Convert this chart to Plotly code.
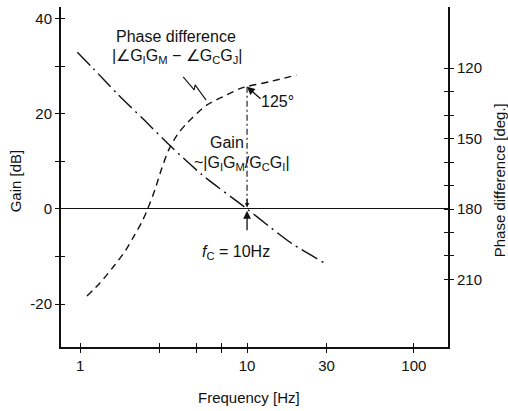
import plotly.graph_objects as go
import math

# ---- data ----
gain_freq = [0.96, 1.2, 1.67, 2.42, 3.46, 5.37, 10.0, 13.95, 18.8, 29.3]
gain_db = [33.0, 29.5, 24.2, 18.7, 13.3, 7.2, 0.0, -4.0, -7.4, -11.4]

phase_freq = [1.097, 1.317, 1.583, 1.859, 2.085, 2.341, 2.535, 2.812, 3.085, 3.38,
              3.805, 4.35, 5.73, 7.54, 9.06, 10.0, 13.7, 19.8]
phase_deg = [217.1, 211.4, 204.5, 197.9, 191.9, 185.5, 180.0, 171.5, 162.5, 155.0,
             148.5, 143.5, 135.7, 131.4, 128.7, 127.8, 125.7, 122.9]

fc = 10.0
peak_gain = 25.7           # gain-axis level of the 125° point

x_ticks = [1, 3, 5, 7, 10, 30, 100]
x_ticklabels = ["1", "", "", "", "10", "30", "100"]
y_ticks = [-20, -10, 0, 10, 20, 30, 40]
y_ticklabels = ["-20", "", "0", "", "20", "", "40"]
p_ticks = [120, 130, 140, 150, 160, 170, 180, 190, 200, 210]
p_ticklabels = ["120", "", "", "150", "", "", "180", "", "", "210"]

# zigzag pointer (freq, gain)
zig_freq = [4.14, 4.82, 4.88, 5.68]
zig_gain = [27.8, 25.05, 26.1, 22.9]

INK = "#111111"
FONT = "Liberation Sans, Arial, Helvetica, sans-serif"

x_range = [-0.1156, 2.205]
y_range = [-29.05, 42.5]
p_range = [238.8, 93.9]

fig = go.Figure()

fig.add_trace(go.Scatter(
    x=gain_freq, y=gain_db, mode="lines",
    line=dict(color=INK, width=1.4, dash="18px,5px,2px,5px", shape="spline",
              smoothing=0.8),
    hoverinfo="skip", showlegend=False))

fig.add_trace(go.Scatter(
    x=phase_freq, y=phase_deg, mode="lines", yaxis="y2",
    line=dict(color=INK, width=1.4, dash="7px,5px", shape="spline",
              smoothing=0.8),
    hoverinfo="skip", showlegend=False))

# vertical dash-dot line at fc
fig.add_trace(go.Scatter(
    x=[fc, fc], y=[peak_gain, 0.3], mode="lines",
    line=dict(color=INK, width=1.1, dash="6px,3px,2px,3px"),
    hoverinfo="skip", showlegend=False))

# zigzag pointer
fig.add_trace(go.Scatter(
    x=zig_freq, y=zig_gain, mode="lines",
    line=dict(color=INK, width=1.1),
    hoverinfo="skip", showlegend=False))

# empty traces so that the inner-tick overlay axes are drawn
fig.add_trace(go.Scatter(x=[None], y=[None], xaxis="x2", yaxis="y3",
                         showlegend=False, hoverinfo="skip"))
fig.add_trace(go.Scatter(x=[None], y=[None], xaxis="x2", yaxis="y4",
                         showlegend=False, hoverinfo="skip"))

lg = math.log10
TXT = 16
annos = [
    dict(x=lg(3.73), y=36.3, text="Phase difference"),
    dict(x=lg(3.80), y=32.0,
         text="|∠G<sub>I</sub>G<sub>M</sub> − ∠G<sub>C</sub>G<sub>J</sub>|"),
    dict(x=lg(7.55), y=13.9, text="Gain"),
    dict(x=lg(9.35), y=9.6,
         text="~|G<sub>I</sub>G<sub>M</sub>/G<sub>C</sub>G<sub>I</sub>|"),
    dict(x=lg(8.6), y=-9.1, text="<i>f</i><sub>C</sub> = 10Hz"),
    dict(x=lg(15.3), y=22.6, text="125°"),
]
for a in annos:
    fig.add_annotation(x=a["x"], y=a["y"], text=a["text"], showarrow=False,
                       xref="x", yref="y",
                       font=dict(family=FONT, size=TXT, color=INK))

# arrows
fig.add_annotation(x=lg(fc), y=peak_gain, ax=lg(12.3), ay=22.9,
                   xref="x", yref="y", axref="x", ayref="y",
                   text="", showarrow=True, arrowhead=2, arrowsize=1.2,
                   arrowwidth=1.3, arrowcolor=INK)
fig.add_annotation(x=lg(fc), y=-0.4, ax=lg(fc), ay=-4.8,
                   xref="x", yref="y", axref="x", ayref="y",
                   text="", showarrow=True, arrowhead=2, arrowsize=1.2,
                   arrowwidth=1.3, arrowcolor=INK)
fig.add_annotation(x=lg(fc), y=0.3, ax=lg(fc), ay=2.5,
                   xref="x", yref="y", axref="x", ayref="y",
                   text="", showarrow=True, arrowhead=2, arrowsize=0.9,
                   arrowwidth=1.0, arrowcolor=INK)

# axis titles
TTL = 15
fig.add_annotation(x=-0.119, y=0.49, xref="paper", yref="paper",
                   xanchor="center", yanchor="middle",
                   text="Gain [dB]", textangle=-90, showarrow=False,
                   font=dict(family=FONT, size=TTL, color=INK))
fig.add_annotation(x=1.134, y=0.49, xref="paper", yref="paper",
                   xanchor="center", yanchor="middle",
                   text="Phase difference [deg.]", textangle=-90,
                   showarrow=False,
                   font=dict(family=FONT, size=TTL, color=INK))
fig.add_annotation(x=0.485, y=-0.15, xref="paper", yref="paper",
                   xanchor="center", yanchor="middle",
                   text="Frequency [Hz]", showarrow=False,
                   font=dict(family=FONT, size=TTL, color=INK))

tickfont = dict(family=FONT, size=15, color=INK)

common = dict(showgrid=False, automargin=False, tickcolor=INK, tickwidth=1.3,
              ticklen=4, tickmode="array")

fig.update_layout(
    width=508, height=411,
    margin=dict(l=61, r=60, t=7, b=64, autoexpand=False),
    paper_bgcolor="white", plot_bgcolor="white",
    showlegend=False,
    xaxis=dict(type="log", range=x_range,
               tickvals=x_ticks, ticktext=x_ticklabels, ticks="outside",
               showline=True, linecolor=INK, linewidth=2,
               zeroline=False, tickfont=tickfont, **common),
    xaxis2=dict(type="log", range=x_range, overlaying="x", anchor="y",
                tickvals=x_ticks, ticktext=[""] * len(x_ticks),
                ticks="inside", showline=False, zeroline=False,
                showticklabels=False, **common),
    yaxis=dict(range=y_range, tickvals=y_ticks, ticktext=y_ticklabels,
               ticks="outside", showline=True, linecolor=INK, linewidth=2,
               zeroline=True, zerolinecolor=INK, zerolinewidth=1.3,
               tickfont=tickfont, **common),
    yaxis2=dict(range=p_range, overlaying="y", side="right", anchor="x",
                tickvals=p_ticks, ticktext=p_ticklabels,
                ticks="outside", showline=True, linecolor=INK, linewidth=2,
                zeroline=False, tickfont=tickfont, **common),
    yaxis3=dict(range=y_range, overlaying="y", side="left", anchor="x2",
                tickvals=y_ticks, ticktext=[""] * len(y_ticks),
                ticks="inside", showline=False, zeroline=False,
                showticklabels=False, **common),
    yaxis4=dict(range=p_range, overlaying="y", side="right", anchor="x2",
                tickvals=p_ticks, ticktext=[""] * len(p_ticks),
                ticks="inside", showline=False, zeroline=False,
                showticklabels=False, **common),
)

fig.write_html("out.html",
               config={"displayModeBar": False},
               post_script="document.body.style.margin='0';"
                           "document.body.style.overflow='hidden';")
